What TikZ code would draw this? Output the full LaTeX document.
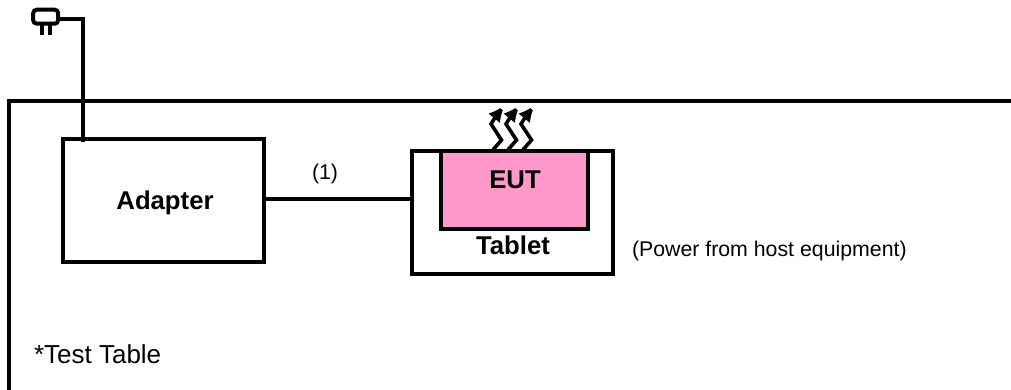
\documentclass[tikz,border=0pt]{standalone}
\usepackage{fontspec}
\setmainfont{Liberation Sans}
\usetikzlibrary{arrows.meta}
\tikzset{
  x=1pt,y=-1pt,
  line/.style={draw=black,line width=4pt},
  boxn/.style={line,rectangle,inner sep=0pt,outer sep=0pt,minimum width=#1},
  lab/.style={inner sep=0pt,outer sep=0pt,anchor=base west,font=\fontsize{26}{28}\selectfont},
  small/.style={inner sep=0pt,outer sep=0pt,anchor=base west,font=\fontsize{21.3}{24}\selectfont},
  blab/.style={inner sep=0pt,outer sep=0pt,anchor=base,font=\bfseries\fontsize{25.7}{28}\selectfont},
  heat/.style={draw=black,line width=3.6pt,-{Latex[length=17pt,width=15pt]},miter limit=2}
}
\definecolor{eutpink}{RGB}{255,153,204}
\begin{document}
\begin{tikzpicture}
\useasboundingbox (0,0) rectangle (1011,390);
% test table
\coordinate (tl) at (9.4,101.3);
\coordinate (tr) at (1011,101.3);
\coordinate (bl) at (9.4,390);
\draw[line,line cap=butt] (bl) -- (tl) -- (tr);
% boxes
\node[boxn=201pt,minimum height=122pt,anchor=north west] (adapter) at (63.4,139.5) {};
\node[boxn=201pt,minimum height=122pt,anchor=north west] (tablet) at (412.4,151.5) {};
\node[boxn=147pt,minimum height=77pt,anchor=north west,fill=eutpink] (eut) at (441.4,151.5) {};
% plug
\node[line,rectangle,rounded corners=3.5pt,minimum width=25pt,minimum height=14pt,inner sep=0pt,outer sep=0pt,anchor=center] (plug) at (45.7,16.7) {};
\coordinate (p1a) at (42,23); \coordinate (p1b) at (42,35);
\coordinate (p2a) at (50,23); \coordinate (p2b) at (50,35);
\draw[draw=black,line width=3.4pt] (p1a) -- (p1b) (p2a) -- (p2b);
\coordinate (corner) at (83.4,19);
\draw[line] (plug.east |- corner) -- (corner) -- (83.4,142);
% connector
\coordinate (cl) at (264,199);
\draw[line] (adapter.east |- cl) -- (tablet.west |- cl);
% heat arrows
\foreach \i in {0,15,30}{
  \draw[heat] (492+\i,151) -- (501.5+\i,140) -- (491+\i,124) -- (496+\i,116) -- (505+\i,105);
}
% labels
\node[blab] (tadapter) at (165,209) {Adapter};
\node[blab] (teut) at (515,189) {EUT};
\node[blab] (ttablet) at (513,254) {Tablet};
\node[small] (tone) at (312,180) {(1)};
\node[small] (tpower) at (632,256) {(Power from host equipment)};
\node[lab] (ttest) at (34,363.5) {*Test Table};
\end{tikzpicture}
\end{document}
